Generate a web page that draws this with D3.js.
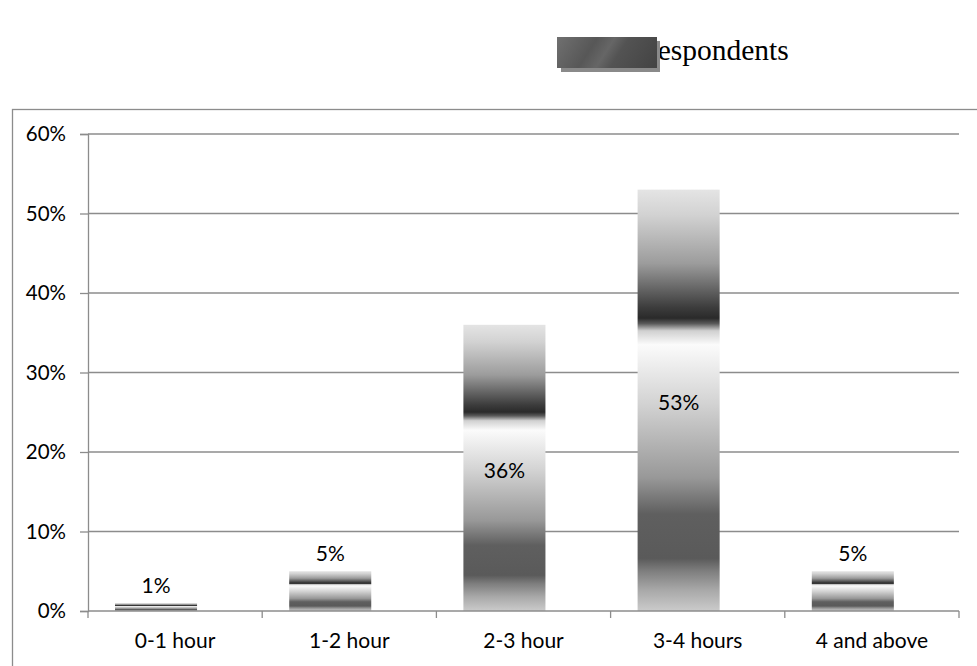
<!DOCTYPE html>
<html>
<head>
<meta charset="utf-8">
<script src="https://cdn.jsdelivr.net/npm/d3@7"></script>
<style>
  html, body { margin: 0; padding: 0; background: #ffffff; }
  svg { display: block; }
</style>
</head>
<body>
<svg id="chart" width="977" height="666"></svg>
<script>
// ---- data ----
const categories = ["0-1 hour", "1-2 hour", "2-3 hour", "3-4 hours", "4 and above"];
const values = [0.01, 0.05, 0.36, 0.53, 0.05];
const valueLabels = ["1%", "5%", "36%", "53%", "5%"];
const yTicks = [0, 0.1, 0.2, 0.3, 0.4, 0.5, 0.6];
const seriesName = "Respondents";

// ---- layout ----
const W = 977, H = 666;
const plot = { left: 88, right: 959, top: 134, bottom: 611 };
const FONT = "Lato, 'Open Sans', sans-serif";
const gridColor = "#8c8c8c";

const svg = d3.select("#chart");
const defs = svg.append("defs");

// bar gradient (vertical, bounding-box relative)
const grad = defs.append("linearGradient")
  .attr("id", "barGrad").attr("x1", 0).attr("y1", 0).attr("x2", 0).attr("y2", 1);
[
  [0, "#e4e4e4"], [0.06, "#d2d2d2"], [0.175, "#9c9c9c"], [0.28, "#3c3c3c"],
  [0.305, "#2a2a2a"], [0.318, "#5a5a5a"], [0.335, "#d0d0d0"], [0.368, "#fbfbfb"],
  [0.51, "#d2d2d2"], [0.684, "#989898"], [0.77, "#5f5f5f"], [0.875, "#5a5a5a"],
  [0.905, "#7e7e7e"], [0.95, "#a8a8a8"], [1, "#cbcbcb"]
].forEach(([o, c]) => grad.append("stop").attr("offset", o).attr("stop-color", c));

// legend key gradient
const lgrad = defs.append("linearGradient")
  .attr("id", "legGrad").attr("gradientUnits", "userSpaceOnUse")
  .attr("x1", 557).attr("y1", 37).attr("x2", 640).attr("y2", 90);
[
  [0, "#707070"], [0.35, "#575757"], [0.5, "#666666"], [0.62, "#535353"], [1, "#444444"]
].forEach(([o, c]) => lgrad.append("stop").attr("offset", o).attr("stop-color", c));

// outer chart border
svg.append("rect")
  .attr("x", 12.5).attr("y", 109.5).attr("width", W + 20).attr("height", H)
  .attr("fill", "none").attr("stroke", "#8c8c8c").attr("stroke-width", 1.3);

// scales
const x = d3.scaleBand().domain(categories).range([plot.left, plot.right]).padding(0);
const y = d3.scaleLinear().domain([0, 0.6]).range([plot.bottom, plot.top]);

// gridlines
svg.append("g").selectAll("line").data(yTicks.filter(t => t > 0)).join("line")
  .attr("x1", plot.left).attr("x2", plot.right)
  .attr("y1", d => y(d)).attr("y2", d => y(d))
  .attr("stroke", gridColor).attr("stroke-width", 1.3);

// y axis
const yAxis = d3.axisLeft(y).tickValues(yTicks).tickFormat(d3.format(".0%")).tickSize(8).tickPadding(14);
const gy = svg.append("g").attr("transform", `translate(${plot.left},0)`).call(yAxis);
gy.select(".domain").attr("stroke", gridColor).attr("stroke-width", 1.3);
gy.selectAll(".tick line").attr("stroke", gridColor).attr("stroke-width", 1.3);
gy.selectAll(".tick text").attr("font-family", FONT).attr("font-size", 20.5).attr("fill", "#000");

// bars
const barOffset = 0.155, barFrac = 0.471;
svg.append("g").selectAll("rect").data(categories).join("rect")
  .attr("x", (d) => x(d) + x.bandwidth() * barOffset)
  .attr("width", x.bandwidth() * barFrac)
  .attr("y", (d, i) => y(values[i]))
  .attr("height", (d, i) => y(0) - y(values[i]))
  .attr("fill", "url(#barGrad)");

// x axis
const gx = svg.append("g");
gx.append("line").attr("x1", plot.left).attr("x2", plot.right)
  .attr("y1", plot.bottom).attr("y2", plot.bottom)
  .attr("stroke", gridColor).attr("stroke-width", 1.5);
const bounds = categories.map(c => x(c)).concat([x(categories[categories.length - 1]) + x.bandwidth()]);
gx.selectAll("line.tk").data(bounds).join("line").attr("class", "tk")
  .attr("x1", d => d).attr("x2", d => d)
  .attr("y1", plot.bottom).attr("y2", plot.bottom + 7)
  .attr("stroke", gridColor).attr("stroke-width", 1.3);
gx.selectAll("text").data(categories).join("text")
  .attr("x", d => x(d) + x.bandwidth() / 2)
  .attr("y", 648)
  .attr("text-anchor", "middle")
  .attr("font-family", FONT).attr("font-size", 21).attr("fill", "#000")
  .text(d => d);

// data labels
svg.append("g").selectAll("text").data(categories).join("text")
  .attr("x", d => x(d) + x.bandwidth() * (barOffset + barFrac / 2))
  .attr("y", (d, i) => values[i] < 0.1 ? y(values[i]) - 10 : (y(values[i]) + y(0)) / 2 + 10)
  .attr("text-anchor", "middle")
  .attr("font-family", FONT).attr("font-size", 21).attr("fill", "#000")
  .text((d, i) => valueLabels[i]);

// legend
const lg = svg.append("g");
lg.append("text")
  .attr("x", 638).attr("y", 60)
  .attr("font-family", "'Liberation Serif', 'Times New Roman', serif")
  .attr("font-size", 29.5).attr("fill", "#000")
  .text(seriesName);
lg.append("rect").attr("x", 561).attr("y", 41).attr("width", 99).attr("height", 31).attr("fill", "#8a8a8a");
lg.append("rect").attr("x", 557).attr("y", 37).attr("width", 100).attr("height", 31).attr("fill", "url(#legGrad)");
</script>
</body>
</html>
